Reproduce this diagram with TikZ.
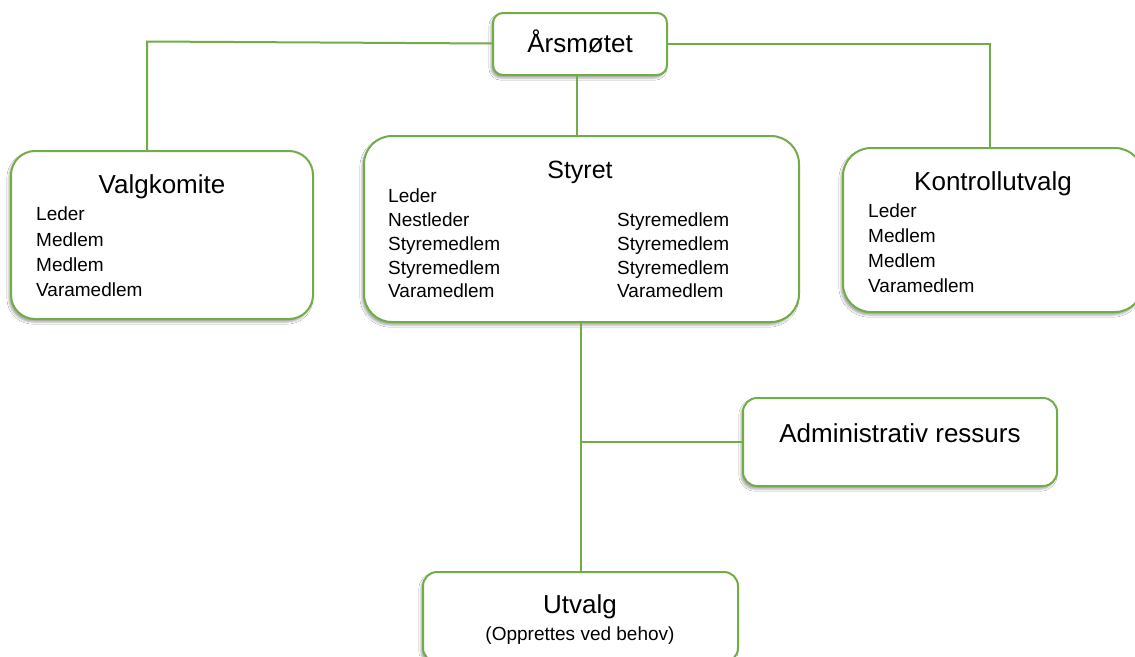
\documentclass[tikz,border=0pt]{standalone}
\usepackage{fontspec}
\setmainfont{Liberation Sans}
\usetikzlibrary{shadows.blur}
\definecolor{leafgreen}{HTML}{70AD47}

\begin{document}
\begin{tikzpicture}[
    x=1pt, y=-1pt,
    box/.style={rectangle, draw=leafgreen, line width=2pt, fill=white,
        blur shadow={shadow xshift=-2pt, shadow yshift=-3pt, shadow opacity=35}},
    link/.style={draw=leafgreen, line width=2pt},
    title/.style={font=\fontsize{26}{30}\selectfont, inner sep=0pt, anchor=base},
    item/.style={font=\fontsize{19}{25.3}\selectfont, align=left, inner sep=0pt, anchor=north west}
]
\fill [white] (0,0) rectangle (1135,656);
\useasboundingbox (0,0) rectangle (1135,656);

% Boxes
\node (arsmotet) [box, rounded corners=10pt, minimum width=174pt, minimum height=62pt] at (580,44) {};
\node (valg) [box, rounded corners=24pt, minimum width=302pt, minimum height=168pt] at (162,235) {};
\node (styret) [box, rounded corners=28pt, minimum width=435pt, minimum height=186pt] at (581.5,229) {};
\node (kontroll) [box, rounded corners=28pt, minimum width=300pt, minimum height=164pt] at (993,230) {};
\node (admin) [box, rounded corners=14pt, minimum width=314pt, minimum height=88pt] at (900,442) {};
\node (utvalg) [box, rounded corners=14pt, minimum width=315pt, minimum height=90pt] at (580.5,617) {};

% Texts
\node (arsmotetT) [title] at (580,52.5) {Årsmøtet};
\node (valgT) [title] at (162,193) {Valgkomite};
\node (valgL) [item] at (36,207) {Leder\\Medlem\\Medlem\\Varamedlem};
\node (styretT) [title, font=\fontsize{25}{30}\selectfont] at (580,178) {Styret};
\node (styretL) [item, font=\fontsize{19}{23.75}\selectfont] at (388,189)
    {Leder\\Nestleder\\Styremedlem\\Styremedlem\\Varamedlem};
\node (styretR) [item, font=\fontsize{19}{23.75}\selectfont] at (617,212.7)
    {Styremedlem\\Styremedlem\\Styremedlem\\Varamedlem};
\node (kontrollT) [title] at (993,190) {Kontrollutvalg};
\node (kontrollL) [item, font=\fontsize{19}{25}\selectfont] at (868,204) {Leder\\Medlem\\Medlem\\Varamedlem};
\node (adminT) [title] at (900,442) {Administrativ ressurs};
\node (utvalgT) [title] at (580,613) {Utvalg};
\node (utvalgS) [title, font=\fontsize{19}{23}\selectfont] at (580,640) {(Opprettes ved behov)};

% Connectors
\coordinate (lcorner) at (147,41.5);
\coordinate (rcorner) at (990,44);
\coordinate (branch) at (utvalg.north |- admin.west);
\draw [link] (arsmotet) -- (lcorner) -- (lcorner |- valg.north);
\draw [link] (arsmotet) -- (rcorner) -- (rcorner |- kontroll.north);
\draw [link] (arsmotet.south -| 577,0) -- (styret.north -| 577,0);
\draw [link] (styret.south -| utvalg.north) -- (utvalg.north);
\draw [link] (branch) -- (admin.west);

\end{tikzpicture}
\end{document}
